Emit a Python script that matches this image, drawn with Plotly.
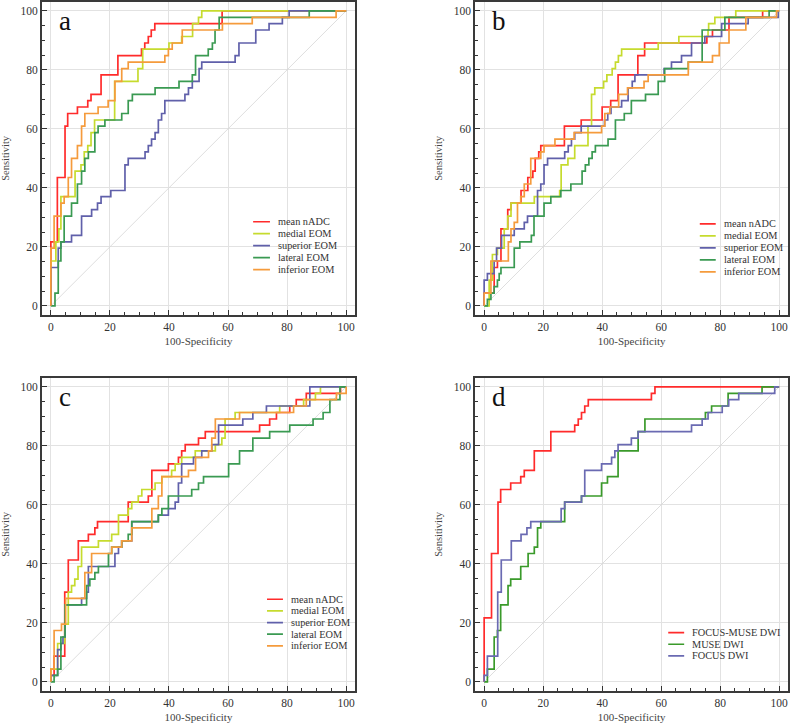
import plotly.graph_objects as go

W, H = 790, 726
FONT = "Liberation Serif"

# ---------------- data (100-Specificity, Sensitivity) step corners ----------------
# Panel a
A_MEAN_FPR = [0, 0, 2.2, 4.8, 5.7, 9.0, 12.5, 13.6, 17.0, 22.7, 30.7, 31.8, 33.0, 34.0, 35.2, 58.0, 100]
A_MEAN_TPR = [0, 21.7, 43.5, 60.9, 65.2, 67.4, 69.6, 71.7, 78.3, 84.8, 87.0, 89.1, 91.3, 93.5, 95.7, 100, 100]
A_MED_FPR = [0, 0, 1.7, 2.7, 3.4, 8.2, 10.2, 11.3, 12.5, 13.6, 14.8, 21.6, 29.5, 31.1, 40.0, 44.3, 48.0, 50.0, 51.1, 100]
A_MED_TPR = [0, 15.2, 21.7, 26.1, 37.0, 45.7, 47.8, 52.2, 54.3, 58.7, 63.0, 76.1, 80.4, 87.0, 89.1, 91.3, 95.7, 97.8, 100, 100]
A_SUP_FPR = [0, 0, 2.5, 3.4, 7.0, 10.4, 13.8, 15.8, 17.0, 20.3, 25.1, 26.2, 31.9, 33.0, 34.1, 35.3, 36.4, 37.5, 38.6,
             45.4, 46.6, 47.9, 50.2, 51.1, 62.4, 63.7, 69.4, 73.9, 78.4, 80.7, 100]
A_SUP_TPR = [0, 13.0, 19.6, 21.7, 23.9, 30.4, 32.6, 34.8, 37.0, 39.1, 47.8, 50.0, 52.2, 54.3, 56.5, 58.7, 63.0, 65.2, 69.6,
             71.7, 73.9, 76.1, 80.4, 82.6, 84.8, 89.1, 93.5, 95.7, 97.8, 100, 100]
A_LAT_FPR = [0, 1.4, 2.5, 3.4, 4.5, 7.0, 9.0, 10.4, 11.5, 12.7, 14.9, 16.0, 18.3, 24.0, 26.2, 27.6, 35.3, 43.4, 47.9,
             49.0, 53.3, 54.7, 55.6, 57.0, 87.5, 100]
A_LAT_TPR = [0, 4.3, 15.2, 21.7, 30.4, 34.8, 41.3, 45.7, 50.0, 52.2, 58.7, 60.9, 63.0, 65.2, 69.6, 71.7, 73.9, 76.1, 78.3,
             84.8, 87.0, 89.1, 93.5, 97.8, 100, 100]
A_INF_FPR = [0, 0, 1.1, 3.4, 4.5, 5.9, 7.0, 9.0, 10.4, 11.5, 16.0, 19.4, 21.7, 24.0, 26.2, 38.6, 39.8, 41.1, 44.5, 58.1,
             68.2, 96.6, 100]
A_INF_TPR = [0, 19.6, 30.4, 34.8, 37.0, 43.5, 50.0, 54.3, 60.9, 65.2, 67.4, 69.6, 76.1, 80.4, 82.6, 84.8, 87.0, 89.1,
             93.5, 95.7, 97.8, 100, 100]

# Panel b
B_MEAN_FPR = [0, 0, 3.4, 4.5, 5.7, 8.0, 9.1, 12.5, 14.8, 16.5, 17.3, 18.5, 19.2, 27.2, 32.9, 40.0, 42.9, 45.4, 52.1,
              54.4, 75.5, 77.4, 83.0, 94.4, 100]
B_MEAN_TPR = [0, 4.3, 13.0, 15.2, 26.1, 32.6, 34.8, 39.1, 43.5, 45.7, 50.0, 52.2, 54.3, 60.9, 63.0, 67.4, 69.6, 78.3,
              84.8, 89.1, 91.3, 93.5, 97.8, 100, 100]
B_MED_FPR = [0, 1.7, 2.8, 4.5, 6.8, 8.0, 9.1, 17.0, 25.6, 26.1, 28.4, 30.7, 35.2, 36.4, 37.5, 40.5, 41.6, 43.4, 44.5,
             45.5, 46.6, 59.0, 66.0, 75.9, 76.1, 78.2, 85.3, 100]
B_MED_TPR = [0, 8.7, 17.4, 19.6, 26.1, 30.4, 34.8, 37.0, 39.1, 47.8, 50.0, 54.3, 60.9, 71.7, 73.9, 76.1, 78.3, 80.4,
             82.6, 84.8, 87.0, 89.1, 91.3, 93.5, 95.7, 97.8, 100, 100]
B_SUP_FPR = [0, 0, 1.1, 3.4, 4.2, 5.9, 10.2, 13.6, 14.7, 18.1, 19.2, 20.3, 21.5, 27.3, 28.5, 29.6, 30.7, 32.9, 40.8,
             41.9, 43.0, 46.6, 48.8, 50.2, 51.1, 61.0, 63.5, 66.9, 70.3, 74.8, 80.5, 89.5, 99.7, 100]
B_SUP_TPR = [0, 8.7, 10.9, 15.2, 19.6, 23.9, 26.1, 28.3, 30.4, 39.1, 41.3, 47.8, 50.0, 52.2, 54.3, 56.5, 58.7, 60.9,
             63.0, 65.2, 67.4, 69.6, 73.9, 76.1, 78.3, 80.4, 82.6, 84.8, 89.1, 91.3, 95.7, 97.8, 100, 100]
B_LAT_FPR = [0, 1.1, 2.3, 3.4, 4.5, 5.1, 5.7, 10.2, 12.1, 16.0, 16.9, 20.3, 22.6, 26.0, 29.4, 33.2, 34.3, 35.5, 36.6,
             37.7, 42.0, 44.5, 47.5, 49.9, 54.7, 59.0, 61.2, 69.2, 73.9, 81.6, 96.6, 100]
B_LAT_TPR = [0, 2.2, 4.3, 6.5, 8.7, 10.9, 13.0, 19.6, 21.7, 23.9, 30.4, 34.8, 37.0, 39.1, 41.3, 45.7, 47.8, 50.0, 52.2,
             54.3, 56.5, 63.0, 65.2, 69.6, 71.7, 76.1, 80.4, 82.6, 93.5, 97.8, 100, 100]
B_INF_FPR = [0, 0, 2.3, 8.2, 9.1, 10.2, 11.3, 12.4, 13.6, 15.8, 19.2, 20.3, 24.0, 30.5, 39.8, 40.9, 42.6, 45.6, 48.6,
             54.2, 55.6, 69.2, 77.4, 79.7, 83.0, 88.7, 99.1, 100]
B_INF_TPR = [0, 4.3, 15.2, 21.7, 26.1, 28.3, 34.8, 37.0, 41.3, 50.0, 52.2, 54.3, 56.5, 58.7, 60.9, 65.2, 67.4, 71.7,
             73.9, 76.1, 78.3, 82.6, 84.8, 89.1, 93.5, 97.8, 100, 100]

# Panel c
C_MEAN_FPR = [0, 0, 1.1, 4.7, 5.9, 9.3, 12.7, 14.9, 15.8, 26.2, 33.0, 34.2, 39.8, 43.2, 44.3, 45.5, 50.0, 52.3, 70.7,
              74.1, 76.4, 80.9, 83.1, 86.5, 98.1, 100]
C_MEAN_TPR = [0, 2.2, 8.7, 30.4, 41.3, 47.8, 50.0, 52.2, 54.3, 60.9, 63.0, 71.7, 73.9, 76.1, 78.3, 80.4, 82.6, 84.8,
              87.0, 89.1, 91.3, 93.5, 95.7, 97.8, 100, 100]
C_MED_FPR = [0, 0, 2.3, 4.7, 5.9, 7.0, 8.1, 9.2, 10.4, 16.1, 20.6, 22.9, 26.2, 27.4, 29.6, 30.8, 35.3, 37.6, 40.9, 42.1,
             44.3, 48.9, 55.7, 57.9, 59.0, 62.4, 77.5, 85.6, 89.6, 91.3, 100]
C_MED_TPR = [0, 4.3, 13.0, 19.6, 30.4, 32.6, 34.8, 39.1, 45.7, 47.8, 50.0, 56.5, 58.7, 60.9, 63.0, 65.2, 67.4, 69.6,
             71.7, 73.9, 76.1, 78.3, 80.4, 82.6, 89.1, 91.3, 93.5, 95.7, 97.8, 100, 100]
C_SUP_FPR = [0, 0, 2.3, 3.4, 4.1, 4.8, 10.4, 12.1, 12.7, 21.7, 22.9, 24.0, 27.4, 36.4, 39.8, 42.1, 43.2, 44.3, 48.3,
             51.1, 54.5, 56.8, 65.0, 68.4, 73.0, 87.7, 100]
C_SUP_TPR = [0, 2.2, 10.9, 13.0, 15.2, 26.1, 28.3, 30.4, 39.1, 43.5, 45.7, 47.8, 54.3, 56.5, 58.7, 60.9, 67.4, 73.9,
             76.1, 78.3, 80.4, 87.0, 89.1, 91.3, 93.5, 100, 100]
C_LAT_FPR = [0, 1.1, 2.3, 3.4, 4.8, 12.1, 13.2, 14.9, 16.1, 19.5, 20.6, 24.0, 26.2, 27.4, 36.4, 37.6, 39.8, 47.7, 50.0,
             51.7, 60.2, 63.9, 68.4, 74.1, 80.9, 88.8, 92.2, 94.5, 97.9, 100]
C_LAT_TPR = [0, 2.2, 4.3, 15.2, 26.1, 32.6, 34.8, 37.0, 39.1, 43.5, 45.7, 47.8, 50.0, 54.3, 56.5, 58.7, 63.0, 65.2, 67.4,
             69.6, 73.9, 78.3, 82.6, 84.8, 87.0, 89.1, 91.3, 95.7, 100, 100]
C_INF_FPR = [0, 0, 1.1, 3.6, 5.0, 11.5, 13.8, 20.6, 24.0, 27.4, 34.2, 36.4, 37.6, 46.6, 49.0, 53.4, 54.5, 55.7, 63.9,
             82.2, 86.5, 96.7, 100, 100]
C_INF_TPR = [0, 4.3, 17.4, 19.6, 28.3, 37.0, 43.5, 45.7, 47.8, 52.2, 58.7, 63.0, 69.6, 71.7, 76.1, 78.3, 82.6, 89.1,
             91.3, 93.5, 95.7, 97.8, 97.8, 100]

# Panel d
D_FM_FPR = [0, 0, 2.5, 4.7, 5.6, 9.0, 12.4, 13.6, 17.0, 22.6, 30.7, 31.9, 33.0, 34.1, 35.3, 56.7, 57.9, 100]
D_FM_TPR = [0, 21.7, 43.5, 60.9, 65.2, 67.4, 69.6, 71.7, 78.3, 84.8, 87.0, 89.1, 91.3, 93.5, 95.7, 97.8, 100, 100]
D_MUSE_FPR = [0, 1.1, 3.4, 4.5, 5.6, 8.1, 9.0, 12.4, 14.9, 17.0, 18.1, 19.2, 27.3, 33.0, 39.8, 41.8, 45.4, 52.2, 54.5,
              75.0, 77.1, 82.7, 94.2, 100]
D_MUSE_TPR = [0, 4.3, 15.2, 17.4, 26.1, 32.6, 34.8, 39.1, 43.5, 45.7, 52.2, 54.3, 60.9, 63.0, 67.4, 69.6, 78.3, 84.8,
              89.1, 91.3, 93.5, 97.8, 100, 100]
D_FOCUS_FPR = [0, 0, 1.1, 4.6, 5.8, 9.2, 12.5, 14.5, 15.8, 26.1, 27.3, 33.0, 34.1, 39.8, 43.2, 44.3, 45.4, 49.9, 52.2,
               70.3, 73.9, 75.9, 80.7, 82.9, 86.3, 98.5, 100]
D_FOCUS_TPR = [0, 2.2, 8.7, 30.4, 41.3, 47.8, 50.0, 52.2, 54.3, 58.7, 60.9, 63.0, 71.7, 73.9, 76.1, 78.3, 80.4, 82.6,
               84.8, 87.0, 89.1, 91.3, 93.5, 95.7, 97.8, 100, 100]

NAMES_EOM = ["mean nADC", "medial EOM", "superior EOM", "lateral EOM", "inferior EOM"]
NAMES_DWI = ["FOCUS-MUSE DWI", "MUSE DWI", "FOCUS DWI"]
PANEL_LETTERS = ["a", "b", "c", "d"]
TICKS = [0, 20, 40, 60, 80, 100]

COL_EOM = ["#ff2b2b", "#c6db2e", "#6060aa", "#3a9a52", "#f59b3c"]
COL_DWI = ["#ff2b2b", "#3a9a2a", "#6a6ab2"]

PANELS = [
    dict(frame=(42, 355, 2, 314.7), names=NAMES_EOM, cols=COL_EOM,
         data=[(A_MEAN_FPR, A_MEAN_TPR), (A_MED_FPR, A_MED_TPR), (A_SUP_FPR, A_SUP_TPR),
               (A_LAT_FPR, A_LAT_TPR), (A_INF_FPR, A_INF_TPR)],
         leg=(68.5, 74.2, 76.3, 28.5, -4.05)),
    dict(frame=(475.3, 788, 2, 314.7), names=NAMES_EOM, cols=COL_EOM,
         data=[(B_MEAN_FPR, B_MEAN_TPR), (B_MED_FPR, B_MED_TPR), (B_SUP_FPR, B_SUP_TPR),
               (B_LAT_FPR, B_LAT_TPR), (B_INF_FPR, B_INF_TPR)],
         leg=(73.1, 78.5, 80.5, 27.8, -4.07)),
    dict(frame=(42, 355, 378, 690.7), names=NAMES_EOM, cols=COL_EOM,
         data=[(C_MEAN_FPR, C_MEAN_TPR), (C_MED_FPR, C_MED_TPR), (C_SUP_FPR, C_SUP_TPR),
               (C_LAT_FPR, C_LAT_TPR), (C_INF_FPR, C_INF_TPR)],
         leg=(73.2, 78.6, 80.7, 28.0, -3.95)),
    dict(frame=(475.3, 788, 378, 690.7), names=NAMES_DWI, cols=COL_DWI,
         data=[(D_FM_FPR, D_FM_TPR), (D_MUSE_FPR, D_MUSE_TPR), (D_FOCUS_FPR, D_FOCUS_TPR)],
         leg=(62.4, 67.8, 69.7, 16.7, -3.95)),
]

fig = go.Figure()
layout = dict(width=W, height=H, margin=dict(l=0, r=0, t=0, b=0),
              paper_bgcolor="white", plot_bgcolor="white", showlegend=False,
              font=dict(family=FONT, color="#333333"))
annotations, shapes = [], []

for i, p in enumerate(PANELS, start=1):
    l, r, t, b = p["frame"]
    xa, ya = f"x{i}" if i > 1 else "x", f"y{i}" if i > 1 else "y"
    common = dict(range=[-3, 103], tickvals=TICKS, ticks="inside", ticklen=5, tickwidth=1,
                  tickcolor="#333333", showline=True, linewidth=2, linecolor="#3a3a3a", mirror=True,
                  showgrid=True, gridcolor="#e2e2e2", gridwidth=1, zeroline=False,
                  minor=dict(dtick=5, tick0=0, ticks="inside", ticklen=3, tickcolor="#333333", showgrid=False),
                  tickfont=dict(family=FONT, size=11.5, color="#333333"), fixedrange=True)
    layout[f"xaxis{i}"] = dict(common, domain=[l / W, r / W], anchor=ya,
                               title=dict(text="100-Specificity", font=dict(family=FONT, size=11, color="#444444"),
                                          standoff=6))
    layout[f"yaxis{i}"] = dict(common, domain=[1 - b / H, 1 - t / H], anchor=xa,
                               title=dict(text="Sensitivity", font=dict(family=FONT, size=10.5, color="#444444"),
                                          standoff=9))
    # diagonal reference
    fig.add_trace(go.Scatter(x=[0, 100], y=[0, 100], mode="lines", xaxis=xa, yaxis=ya,
                             line=dict(color="#d6d6d6", width=0.8), hoverinfo="skip"))
    for (fx, ty), name, col in zip(p["data"], p["names"], p["cols"]):
        fig.add_trace(go.Scatter(x=fx, y=ty, mode="lines", name=name, xaxis=xa, yaxis=ya,
                                 line=dict(color=col, width=1.7, shape="hv")))
    # manual legend
    x0, x1, xt, y0, dy = p["leg"]
    for k, (name, col) in enumerate(zip(p["names"], p["cols"])):
        yy = y0 + k * dy
        shapes.append(dict(type="line", xref=xa, yref=ya, x0=x0, x1=x1, y0=yy, y1=yy,
                           line=dict(color=col, width=1.7)))
        annotations.append(dict(x=xt, y=yy, xref=xa, yref=ya, text=name, showarrow=False,
                                xanchor="left", yanchor="middle",
                                font=dict(family=FONT, size=10.3, color="#333333")))
    # panel letter
    annotations.append(dict(x=2.0, y=96.6, xref=xa, yref=ya, text=PANEL_LETTERS[i - 1], showarrow=False,
                            xanchor="left", yanchor="middle",
                            font=dict(family=FONT, size=27, color="#111111")))

layout["annotations"] = annotations
layout["shapes"] = shapes
fig.update_layout(**layout)
fig.write_html("out.html")
